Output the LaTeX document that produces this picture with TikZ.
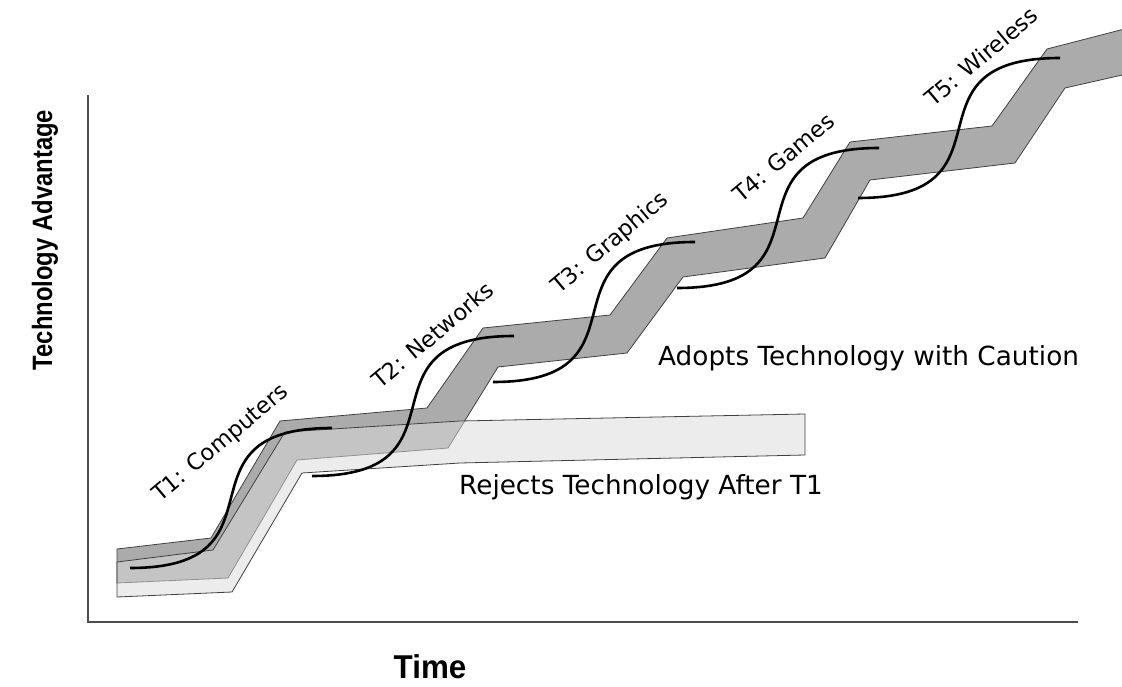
\documentclass[tikz,border=0pt]{standalone}
\usepackage{fontspec}
\setmainfont{DejaVu Sans}
\newfontfamily\axisfont{Liberation Sans}

\begin{document}
\begin{tikzpicture}[x=1pt, y=-1pt,
  band/.style={draw=black!75, line width=0.8pt, line join=miter},
  adopt/.style={band, fill=black!33},
  reject/.style={band, fill=black!14, fill opacity=0.52},
  scurve/.style={line width=2.6pt},
  tlabel/.style={font=\fontsize{22.5}{22.5}\selectfont, inner sep=0pt, anchor=base west, rotate=40},
  blabel/.style={font=\fontsize{26.3}{26.3}\selectfont, inner sep=0pt, anchor=base west},
  axlabel/.style={font=\axisfont\bfseries, inner sep=0pt}]
  \useasboundingbox (0,0) rectangle (1122,687);

  % axes
  \coordinate (top) at (88,95);
  \coordinate (origin) at (88,622);
  \coordinate (right) at (1078,622);
  \draw[black!70, line width=1.5pt] (top) -- (origin) -- (right);

  % adopts technology with caution
  \draw[adopt] (117,549) -- (211,538) -- (280,421) -- (427,408) -- (483,328) -- (610,315)
    -- (667,238) -- (803,218) -- (850,142) -- (992,126) -- (1047,49) -- (1140,25)
    -- (1140,71) -- (1065,88) -- (1015,163) -- (870,180) -- (825,258) -- (683,277)
    -- (627,353) -- (498,367) -- (448,448) -- (297,460) -- (228,578) -- (117,583) -- cycle;

  % rejects technology after T1
  \draw[reject] (117,562) -- (213,550) -- (285,432) -- (460,421) -- (805,414)
    -- (805,455) -- (460,463) -- (302,473) -- (232,592) -- (117,597) -- cycle;

  % one s-curve per technology
  \foreach \sx/\sy [count=\i] in {130/568, 312/476, 493/382, 677/288, 858/198}
    \draw[scurve] (\sx,\sy) coordinate (s\i)
      .. controls +(165,0) and +(-165,0) .. ++(202,-140) coordinate (e\i);

  \node[tlabel] (t1) at (160,503) {T1: Computers};
  \node[tlabel] (t2) at (380,390) {T2: Networks};
  \node[tlabel] (t3) at (559,295) {T3: Graphics};
  \node[tlabel] (t4) at (741,204) {T4: Games};
  \node[tlabel] (t5) at (933,108) {T5: Wireless};

  \node[blabel] (adopts) at (658,365) {Adopts Technology with Caution};
  \node[blabel] (rejects) at (459,494) {Rejects Technology After T1};

  \node[axlabel, rotate=90] (yaxis) at (45,240)
    {\fontsize{28}{28}\selectfont\scalebox{0.85}[1]{Technology Advantage}};
  \node[axlabel] (xaxis) at (430,667)
    {\fontsize{33}{33}\selectfont\scalebox{0.95}[1]{Time}};
\end{tikzpicture}
\end{document}
